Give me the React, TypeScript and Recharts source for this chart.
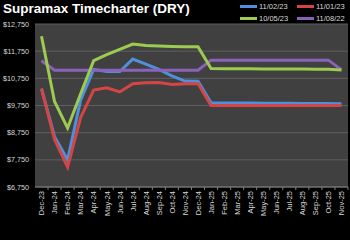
import { LineChart, Line, XAxis, YAxis, CartesianGrid, Legend } from 'recharts';

const months = [
  'Dec-23', 'Jan-24', 'Feb-24', 'Mar-24', 'Apr-24', 'May-24', 'Jun-24', 'Jul-24',
  'Aug-24', 'Sep-24', 'Oct-24', 'Nov-24', 'Dec-24', 'Jan-25', 'Feb-25', 'Mar-25',
  'Apr-25', 'May-25', 'Jun-25', 'Jul-25', 'Aug-25', 'Sep-25', 'Oct-25', 'Nov-25',
];

// 11/02/23 curve
const curveNov0223 = [
  10370, 8600, 7750, 9950, 11080, 11000, 11000, 11460, 11270, 11080, 10840, 10650,
  10640, 9850, 9845, 9840, 9840, 9835, 9835, 9830, 9825, 9820, 9820, 9815,
];
// 11/01/23 curve
const curveNov0123 = [
  10370, 8500, 7480, 9300, 10320, 10400, 10250, 10550, 10590, 10600, 10520, 10550,
  10550, 9750, 9750, 9750, 9750, 9750, 9750, 9750, 9750, 9750, 9750, 9750,
];
// 10/05/23 curve
const curveOct0523 = [
  12300, 9900, 8920, 10180, 11400, 11620, 11820, 12010, 11960, 11940, 11920, 11910,
  11910, 11110, 11105, 11100, 11100, 11095, 11095, 11090, 11090, 11085, 11080, 11060,
];
// 11/08/22 curve
const curveNov0822 = [
  11400, 11050, 11050, 11050, 11050, 11050, 11050, 11050, 11050, 11050, 11050, 11050,
  11050, 11420, 11420, 11420, 11420, 11420, 11420, 11420, 11420, 11420, 11420, 11060,
];

const yTicks = [6750, 7750, 8750, 9750, 10750, 11750, 12750];

const legendItems = [
  { name: '11/02/23', color: '#4F8FDB' },
  { name: '11/01/23', color: '#D64545' },
  { name: '10/05/23', color: '#9CCB50' },
  { name: '11/08/22', color: '#8A62B8' },
];

const data = months.map((month, i) => ({
  month,
  nov0223: curveNov0223[i],
  nov0123: curveNov0123[i],
  oct0523: curveOct0523[i],
  nov0822: curveNov0822[i],
}));

const FONT = '"Liberation Sans", Arial, sans-serif';
const TEXT = '#d9d9d9';

function MonthTick({ x, y, payload }: any) {
  return (
    <g>
      <line x1={x + 6.5} y1={y - 4} x2={x + 6.5} y2={y - 1} stroke="#7f7f7f" />
      <text
        transform={`translate(${x + 2.8},${y}) rotate(-90)`}
        textAnchor="end"
        fill={TEXT}
        fontSize={7.5}
        fontFamily={FONT}
      >
        {payload.value}
      </text>
    </g>
  );
}

function CurveLegend() {
  return (
    <div style={{ display: 'grid', gridTemplateColumns: '57px 57px', rowGap: 2, fontFamily: FONT, fontSize: 7.5, color: TEXT }}>
      {legendItems.map((item) => (
        <div key={item.name} style={{ display: 'flex', alignItems: 'center', height: 10 }}>
          <span style={{ width: 17, height: 3, background: item.color, marginRight: 2 }} />
          <span>{item.name}</span>
        </div>
      ))}
    </div>
  );
}

export default function App() {
  return (
    <div style={{ position: 'absolute', left: 0, top: 0, width: 350, height: 240, background: '#000', overflow: 'hidden' }}>
      <div style={{ position: 'absolute', left: 3, top: 1, color: '#fff', fontFamily: FONT, fontWeight: 'bold', fontSize: 13.5, whiteSpace: 'nowrap' }}>
        Supramax Timecharter (DRY)
      </div>
      <LineChart width={350} height={240} data={data} margin={{ top: 24, right: 2, bottom: 0, left: 0 }}>
        <CartesianGrid vertical={false} fill="#404040" stroke="#5f5f5f" />
        <XAxis
          dataKey="month"
          interval={0}
          height={31}
          padding={{ left: 6.5, right: 6.5 }}
          axisLine={{ stroke: '#7f7f7f' }}
          tickLine={false}
          tickSize={3}
          tickMargin={1}
          tick={<MonthTick />}
        />
        <YAxis
          width={35}
          domain={[6750, 12750]}
          ticks={yTicks}
          interval={0}
          axisLine={false}
          tickLine={false}
          tickSize={0}
          tickMargin={6}
          tick={{ fill: TEXT, fontSize: 7.2, fontFamily: FONT }}
          tickFormatter={(v: number) => `$${v.toLocaleString('en-US')}`}
        />
        <Legend content={<CurveLegend />} wrapperStyle={{ top: 1, left: 240, width: 114 }} />
        <Line dataKey="nov0223" name="11/02/23" stroke="#4F8FDB" strokeWidth={3} dot={false} isAnimationActive={false} />
        <Line dataKey="nov0123" name="11/01/23" stroke="#D64545" strokeWidth={3} dot={false} isAnimationActive={false} />
        <Line dataKey="nov0822" name="11/08/22" stroke="#8A62B8" strokeWidth={3} dot={false} isAnimationActive={false} />
        <Line dataKey="oct0523" name="10/05/23" stroke="#9CCB50" strokeWidth={3} dot={false} isAnimationActive={false} />
      </LineChart>
    </div>
  );
}
